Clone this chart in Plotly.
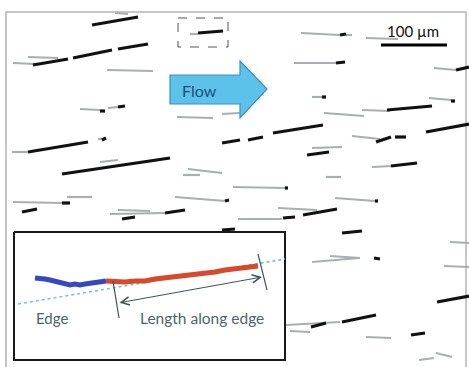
import plotly.graph_objects as go

# ---- fibre segments (pixel coordinates) ----
gray_x0 = [115, 13, 28, 107, 80, 108, 98, 12, 100, 177, 222, 188, 183, 190, 301, 346, 366, 294, 434, 312,
           429, 324, 362, 352, 312, 372, 326, 233, 335, 13, 67, 110, 118, 175, 278, 238, 312, 330, 450, 444,
           286, 290, 366, 419, 436]
gray_y0 = [13, 63, 57, 70, 109, 108, 139, 152, 162, 117, 114, 169, 175, 34, 33, 35, 38, 63, 68, 97,
           98, 113, 110, 136, 148, 167, 177, 187, 198, 202, 197, 214, 210, 197, 208, 219, 262, 256, 242, 266,
           325, 331, 337, 360, 353]
gray_x1 = [128, 35, 58, 153, 100, 118, 102, 28, 118, 213, 240, 222, 200, 198, 340, 352, 398, 336, 456, 322,
           451, 364, 390, 380, 342, 392, 341, 285, 375, 62, 92, 165, 150, 225, 317, 282, 359, 360, 469, 469,
           340, 310, 391, 434, 452]
gray_y1 = [14, 64, 58, 71, 110, 107, 139, 152, 160, 118, 113, 173, 175, 34, 35, 35, 39, 63, 70, 97,
           100, 116, 111, 139, 147, 166, 177, 188, 201, 203, 197, 213, 211, 201, 210, 219, 258, 258, 243, 267,
           322, 332, 338, 358, 357]

black_x0 = [92, 33, 73, 118, 100, 118, 102, 28, 62, 198, 222, 248, 273, 336, 340, 456, 322, 451, 387, 426,
            376, 395, 307, 391, 285, 375, 62, 22, 165, 122, 225, 283, 303, 342, 374, 437, 311, 342, 411, 222]
black_y0 = [25, 65, 58, 49, 111, 107, 140, 152, 174, 33, 143, 140, 133, 63, 35, 70, 97, 101, 110, 132,
            142, 137, 155, 166, 188, 201, 203, 212, 213, 219, 201, 218, 215, 233, 258, 302, 327, 322, 335, 230]
black_x1 = [138, 68, 112, 148, 105, 125, 106, 88, 170, 223, 240, 263, 323, 345, 346, 469, 326, 455, 432, 469,
            391, 406, 329, 417, 288, 378, 70, 37, 185, 135, 229, 295, 337, 362, 380, 469, 326, 376, 425, 235]
black_y1 = [17, 59, 50, 44, 111, 106, 138, 142, 158, 31, 140, 137, 125, 62, 34, 67, 97, 101, 106, 124,
            137, 137, 152, 163, 188, 201, 203, 209, 210, 217, 200, 217, 209, 231, 259, 296, 323, 315, 333, 229]

# ---- inset: traced fibre split at the edge ----
blue_x = [35, 40, 45, 50, 55, 60, 65, 70, 75, 80, 85, 90, 95, 100, 106]
blue_y = [278, 278, 279, 280, 281, 283, 284, 285, 284, 285, 284, 283, 283, 282, 281]
red_x = [106, 115, 125, 135, 145, 155, 165, 175, 185, 195, 205, 215, 225, 235, 245, 258]
red_y = [281, 282, 282, 281, 281, 279, 278, 277, 275, 274, 273, 272, 270, 269, 268, 266]
edge_x = [18, 285]
edge_y = [304, 259]

labels = {"flow": "Flow", "scale": "100 µm", "edge": "Edge", "length": "Length along edge"}

W, H = 469, 367
fig = go.Figure()


def seg_trace(x0, y0, x1, y1, color, width):
    xs, ys = [], []
    for a, b, c, d in zip(x0, y0, x1, y1):
        xs += [a, c, None]
        ys += [b, d, None]
    return go.Scatter(x=xs, y=ys, mode="lines", line=dict(color=color, width=width),
                      hoverinfo="skip", showlegend=False)


fig.add_trace(seg_trace(gray_x0, gray_y0, gray_x1, gray_y1, "#a9aeb0", 2.2))
fig.add_trace(seg_trace(black_x0, black_y0, black_x1, black_y1, "#111111", 3.2))

# inset box (white fill above the fibres)
ix0, iy0, ix1, iy1 = 14, 232, 285, 360
fig.add_trace(go.Scatter(x=[ix0, ix1, ix1, ix0, ix0], y=[iy0, iy0, iy1, iy1, iy0], mode="lines",
                         fill="toself", fillcolor="white", line=dict(color="#1a1a1a", width=2),
                         hoverinfo="skip", showlegend=False))
fig.add_trace(go.Scatter(x=edge_x, y=edge_y, mode="lines",
                         line=dict(color="#7cc0d0", width=1.6, dash="dot"),
                         hoverinfo="skip", showlegend=False))
fig.add_trace(go.Scatter(x=blue_x, y=blue_y, mode="lines", line=dict(color="#3548c0", width=5),
                         hoverinfo="skip", showlegend=False))
fig.add_trace(go.Scatter(x=red_x, y=red_y, mode="lines", line=dict(color="#d8482a", width=5),
                         hoverinfo="skip", showlegend=False))
# ticks on the edge
fig.add_trace(go.Scatter(x=[113, 119, None, 258, 267], y=[281, 318, None, 254, 290], mode="lines",
                         line=dict(color="#3e5456", width=1.2), hoverinfo="skip", showlegend=False))

shapes = [
    dict(type="rect", x0=6, y0=12, x1=466, y1=375, line=dict(color="#b9b2b2", width=1.5), layer="below"),
    dict(type="rect", x0=178, y0=18, x1=228, y1=47, line=dict(color="#555555", width=1, dash="dash")),
    dict(type="line", x0=381, y0=45, x1=447, y1=45, line=dict(color="#000000", width=3)),
    dict(type="path", path="M170,75 L240,75 L240,61 L267,89 L240,118 L240,104 L170,104 Z",
         fillcolor="#5cc2ea", line=dict(color="#3a8fc2", width=1.2)),
]

annotations = [
    dict(x=199, y=90, text=labels["flow"], showarrow=False, font=dict(family="Lato", size=16, color="#1f4e79")),
    dict(x=413, y=31, text=labels["scale"], showarrow=False, font=dict(family="Lato", size=15, color="#111111")),
    dict(x=52, y=318, text=labels["edge"], showarrow=False, font=dict(family="Lato", size=15, color="#4f6468")),
    dict(x=202, y=318, text=labels["length"], showarrow=False, font=dict(family="Lato", size=15.5, color="#4f6468")),
    dict(x=262, y=277, ax=118, ay=303, xref="x", yref="y", axref="x", ayref="y", text="",
         showarrow=True, arrowhead=5, startarrowhead=5, arrowside="end+start", arrowsize=1.6,
         startarrowsize=1.6, arrowwidth=1, arrowcolor="#3e5456"),
]

fig.update_layout(
    width=W, height=H, margin=dict(l=0, r=0, t=0, b=0),
    paper_bgcolor="white", plot_bgcolor="white",
    xaxis=dict(range=[0, W], visible=False, fixedrange=True),
    yaxis=dict(range=[H, 0], visible=False, fixedrange=True),
    shapes=shapes, annotations=annotations, showlegend=False,
)
fig.write_html("out.html", config={"displayModeBar": False},
               post_script="document.body.style.margin='0px';document.body.style.overflow='hidden';")
